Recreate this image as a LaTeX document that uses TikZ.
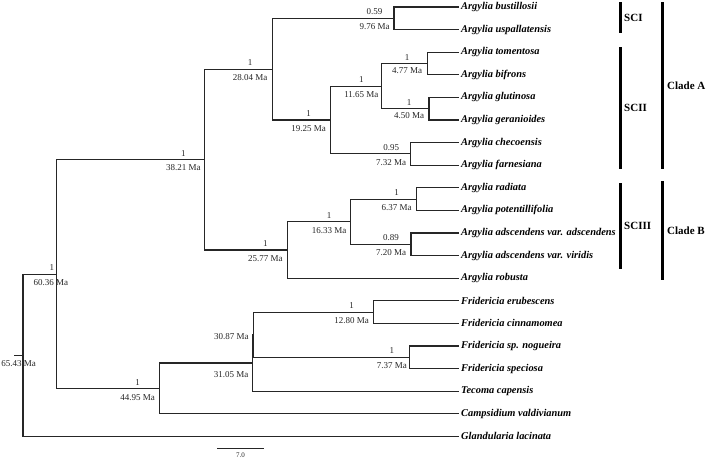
\documentclass[tikz,border=0pt]{standalone}
\usepackage{fontspec}
\setmainfont{Liberation Serif}
\begin{document}
\begin{tikzpicture}[x=1pt,y=-1pt,
  br/.style={line width=1.1pt, draw=black!85},
  tip/.style={anchor=west, font=\fontsize{10.4}{12}\selectfont\bfseries\itshape, inner sep=0pt},
  lab/.style={font=\fontsize{9}{10}\selectfont, inner sep=0pt, text=black!85},
  grp/.style={line width=3pt, draw=black},
  grplab/.style={font=\fontsize{11}{13}\selectfont\bfseries, anchor=west, inner sep=0pt}]
\useasboundingbox (0,0) rectangle (708,458);
% tips
\coordinate (t0) at (459,7);
\coordinate (t1) at (459,29.6);
\coordinate (t2) at (459,52.2);
\coordinate (t3) at (459,74.8);
\coordinate (t4) at (459,97.4);
\coordinate (t5) at (459,120);
\coordinate (t6) at (459,142.6);
\coordinate (t7) at (459,165.2);
\coordinate (t8) at (459,187.8);
\coordinate (t9) at (459,210.4);
\coordinate (t10) at (459,233);
\coordinate (t11) at (459,255.6);
\coordinate (t12) at (459,278.2);
\coordinate (t13) at (459,300.8);
\coordinate (t14) at (459,323.4);
\coordinate (t15) at (459,346);
\coordinate (t16) at (459,368.6);
\coordinate (t17) at (459,391.2);
\coordinate (t18) at (459,413.8);
\coordinate (t19) at (459,436.4);
% internal nodes
\coordinate (rootstub) at (14,355.3);
\coordinate (root) at (23,355.3);
\coordinate (n6036) at (56.8,274.1);
\coordinate (n3821) at (204.4,159.55);
\coordinate (n2804) at (272.1,69.15);
\coordinate (n976) at (394,18.3);
\coordinate (n1925) at (330.7,120);
\coordinate (n1165) at (381.4,86.1);
\coordinate (n477) at (427.2,63.5);
\coordinate (n450) at (429,108.7);
\coordinate (n732) at (410.2,153.9);
\coordinate (n2577) at (287.3,249.95);
\coordinate (n1633) at (350.2,221.7);
\coordinate (n637) at (416.6,199.1);
\coordinate (n720) at (411,244.3);
\coordinate (n4495) at (159.5,388.7);
\coordinate (n3105) at (252.1,362.95);
\coordinate (n3087) at (253.3,334.7);
\coordinate (n1280) at (373.7,312.1);
\coordinate (n737) at (409.9,357.3);
% branches
\draw[br] (rootstub) -- (root);
\draw[br] (root) |- (n6036); \draw[br] (root) |- (t19);
\draw[br] (n6036) |- (n3821); \draw[br] (n6036) |- (n4495);
\draw[br] (n3821) |- (n2804); \draw[br] (n3821) |- (n2577);
\draw[br] (n2804) |- (n976); \draw[br] (n2804) |- (n1925);
\draw[br] (n976) |- (t0); \draw[br] (n976) |- (t1);
\draw[br] (n1925) |- (n1165); \draw[br] (n1925) |- (n732);
\draw[br] (n1165) |- (n477); \draw[br] (n1165) |- (n450);
\draw[br] (n477) |- (t2); \draw[br] (n477) |- (t3);
\draw[br] (n450) |- (t4); \draw[br] (n450) |- (t5);
\draw[br] (n732) |- (t6); \draw[br] (n732) |- (t7);
\draw[br] (n2577) |- (n1633); \draw[br] (n2577) |- (t12);
\draw[br] (n1633) |- (n637); \draw[br] (n1633) |- (n720);
\draw[br] (n637) |- (t8); \draw[br] (n637) |- (t9);
\draw[br] (n720) |- (t10); \draw[br] (n720) |- (t11);
\draw[br] (n4495) |- (n3105); \draw[br] (n4495) |- (t18);
\draw[br] (n3105) |- (n3087); \draw[br] (n3105) |- (t17);
\draw[br] (n3087) |- (n1280); \draw[br] (n3087) |- (n737);
\draw[br] (n1280) |- (t13); \draw[br] (n1280) |- (t14);
\draw[br] (n737) |- (t15); \draw[br] (n737) |- (t16);
% tip labels
\node[tip] (L0) at ([xshift=2pt]t0) {Argylia bustillosii};
\node[tip] (L1) at ([xshift=2pt]t1) {Argylia uspallatensis};
\node[tip] (L2) at ([xshift=2pt]t2) {Argylia tomentosa};
\node[tip] (L3) at ([xshift=2pt]t3) {Argylia bifrons};
\node[tip] (L4) at ([xshift=2pt]t4) {Argylia glutinosa};
\node[tip] (L5) at ([xshift=2pt]t5) {Argylia geranioides};
\node[tip] (L6) at ([xshift=2pt]t6) {Argylia checoensis};
\node[tip] (L7) at ([xshift=2pt]t7) {Argylia farnesiana};
\node[tip] (L8) at ([xshift=2pt]t8) {Argylia radiata};
\node[tip] (L9) at ([xshift=2pt]t9) {Argylia potentillifolia};
\node[tip] (L10) at ([xshift=2pt]t10) {Argylia adscendens var. adscendens};
\node[tip] (L11) at ([xshift=2pt]t11) {Argylia adscendens var. viridis};
\node[tip] (L12) at ([xshift=2pt]t12) {Argylia robusta};
\node[tip] (L13) at ([xshift=2pt]t13) {Fridericia erubescens};
\node[tip] (L14) at ([xshift=2pt]t14) {Fridericia cinnamomea};
\node[tip] (L15) at ([xshift=2pt]t15) {Fridericia sp. nogueira};
\node[tip] (L16) at ([xshift=2pt]t16) {Fridericia speciosa};
\node[tip] (L17) at ([xshift=2pt]t17) {Tecoma capensis};
\node[tip] (L18) at ([xshift=2pt]t18) {Campsidium valdivianum};
\node[tip] (L19) at ([xshift=2pt]t19) {Glandularia lacinata};
% node labels
\path (n976) ++(-19.5,-6.5) node[lab] (s976) {0.59} ++(0,15) node[lab] (a976) {9.76 Ma};
\path (n2804) ++(-22,-6.5) node[lab] (s2804) {1} ++(0,15) node[lab] (a2804) {28.04 Ma};
\path (n3821) ++(-21,-6.5) node[lab] (s3821) {1} ++(0,15) node[lab] (a3821) {38.21 Ma};
\path (n6036) ++(-5,-6.5) node[lab] (s6036) {1} ++(-1,15) node[lab] (a6036) {60.36 Ma};
\path (root) ++(-4.5,8) node[lab] (a6543) {65.43 Ma};
\path (n1925) ++(-22,-6.5) node[lab] (s1925) {1} ++(0,15) node[lab] (a1925) {19.25 Ma};
\path (n1165) ++(-20,-6.5) node[lab] (s1165) {1} ++(0,15) node[lab] (a1165) {11.65 Ma};
\path (n477) ++(-20,-6) node[lab] (s477) {1} ++(0,13) node[lab] (a477) {4.77 Ma};
\path (n450) ++(-20,-6) node[lab] (s450) {1} ++(0,13) node[lab] (a450) {4.50 Ma};
\path (n732) ++(-19,-6.5) node[lab] (s732) {0.95} ++(0,15) node[lab] (a732) {7.32 Ma};
\path (n2577) ++(-22,-6.5) node[lab] (s2577) {1} ++(0,15) node[lab] (a2577) {25.77 Ma};
\path (n1633) ++(-21,-6.5) node[lab] (s1633) {1} ++(0,15) node[lab] (a1633) {16.33 Ma};
\path (n637) ++(-20,-6.5) node[lab] (s637) {1} ++(0,15) node[lab] (a637) {6.37 Ma};
\path (n720) ++(-20,-6.5) node[lab] (s720) {0.89} ++(0,15) node[lab] (a720) {7.20 Ma};
\path (n4495) ++(-22,-6.5) node[lab] (s4495) {1} ++(0,15) node[lab] (a4495) {44.95 Ma};
\path (n3087) ++(-22,2) node[lab] (a3087) {30.87 Ma};
\path (n3105) ++(-21,12) node[lab] (a3105) {31.05 Ma};
\path (n1280) ++(-22,-6.5) node[lab] (s1280) {1} ++(0,15) node[lab] (a1280) {12.80 Ma};
\path (n737) ++(-18,-6.5) node[lab] (s737) {1} ++(0,15) node[lab] (a737) {7.37 Ma};
% scale bar
\coordinate (sb1) at (217,448);
\coordinate (sb2) at (264,448);
\draw[line width=0.8pt, draw=black!85] (sb1) -- (sb2);
\node[font=\fontsize{7}{8}\selectfont, inner sep=0pt, text=black!85] (sblab) at (240.5,455) {7.0};
% group bars
\coordinate (sci1) at (620,2); \coordinate (sci2) at (620,33);
\coordinate (scii1) at (620,47); \coordinate (scii2) at (620,169);
\coordinate (sciii1) at (620,183); \coordinate (sciii2) at (620,269);
\coordinate (ca1) at (662,2); \coordinate (ca2) at (662,169);
\coordinate (cb1) at (662,181); \coordinate (cb2) at (662,280);
\draw[grp] (sci1) -- (sci2);
\draw[grp] (scii1) -- (scii2);
\draw[grp] (sciii1) -- (sciii2);
\draw[grp] (ca1) -- (ca2);
\draw[grp] (cb1) -- (cb2);
\node[grplab] (gSCI) at (624,17.5) {SCI};
\node[grplab] (gSCII) at (624,108) {SCII};
\node[grplab] (gSCIII) at (624,226) {SCIII};
\node[grplab] (gCA) at (667,85.5) {Clade A};
\node[grplab] (gCB) at (667,230.5) {Clade B};
\end{tikzpicture}
\end{document}
